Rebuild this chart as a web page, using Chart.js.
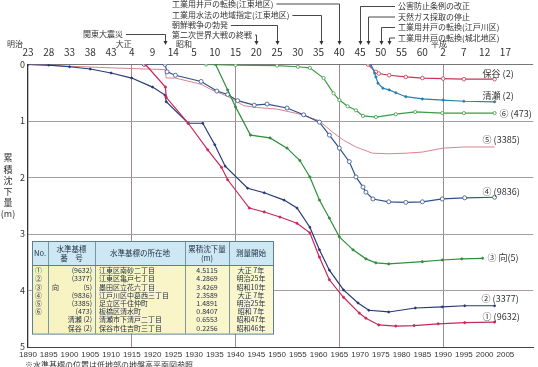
<!DOCTYPE html>
<html><head><meta charset="utf-8">
<script src="https://cdn.jsdelivr.net/npm/chart.js@4/dist/chart.umd.min.js"></script>
<style>html,body{margin:0;padding:0;background:#fff;}canvas{display:block;}</style>
</head><body>
<canvas id="c" width="538" height="367"></canvas>
<script>
// ---------- DATA ----------
const bottomTickYears = [1890,1895,1900,1905,1910,1915,1920,1925,1930,1935,1940,1945,1950,1955,1960,1965,1970,1975,1980,1985,1990,1995,2000,2005];
const topTickLabels = ['23','28','33','38','43','4','9','14','5','10','15','20','25','30','35','40','45','50','55','60','2','7','12','17'];
const eraNames = ['明治','大正','昭和','平成'];
const eraStartYears = [1890,1915,1930,1990];
const gridYears = [1915,1940,1965,1990];
const yTicks = [0,1,2,3,4,5];
const yTitleChars = ['累','積','沈','下','量','(m)'];

// series: [year, cumulative subsidence (m)]
const bm9632 = [[1918.3,0],[1923.1,0.40],[1923.3,0.58],[1928.6,1.04],[1933.3,1.51],[1936.6,1.82],[1938.1,2.04],[1943.3,2.54],[1946.9,2.61],[1950.7,2.70],[1954.8,2.81],[1957.9,2.98],[1960.2,3.41],[1962.6,3.81],[1966.0,4.12],[1969.8,4.40],[1971.4,4.49],[1974.5,4.61],[1978.6,4.63],[1983.0,4.62],[1988.8,4.59],[1995.2,4.57],[2002.4,4.56]];
const bm3377 = [[1890,0],[1895,0.01],[1900,0.04],[1905,0.08],[1910,0.15],[1915,0.24],[1920,0.40],[1923,0.54],[1923.3,0.66],[1928.6,1.04],[1932.1,1.04],[1935,1.42],[1937.5,1.80],[1942.9,2.19],[1946.9,2.27],[1951.7,2.40],[1954.8,2.54],[1957.9,2.88],[1960.2,3.28],[1962.6,3.64],[1966.0,3.99],[1969.5,4.22],[1972.1,4.35],[1976.9,4.38],[1983.3,4.31],[1989.8,4.29],[1995.2,4.27],[2002.4,4.27]];
const bmMuko5 = [[1935.2,0],[1938.1,0.45],[1940,0.75],[1943.6,1.25],[1948.3,1.30],[1952.4,1.48],[1955.5,1.70],[1957.9,1.99],[1960.2,2.40],[1962.6,2.72],[1965,3.05],[1968.3,3.28],[1971.4,3.44],[1973.8,3.51],[1976.9,3.53],[1985,3.49],[1989.8,3.46],[1994.5,3.44],[1999.5,3.43]];
const bm9836 = [[1918,0],[1923,0],[1923.5,0.13],[1925.5,0.19],[1931.7,0.30],[1935.5,0.47],[1938.1,0.53],[1940.5,0.64],[1944.5,0.72],[1947.6,0.70],[1952.4,0.77],[1956.4,0.89],[1960.2,1.02],[1962.6,1.25],[1965,1.48],[1967.4,1.72],[1969,1.99],[1970.7,2.17],[1971.4,2.26],[1973.1,2.38],[1976.9,2.43],[1981,2.44],[1985,2.43],[1989.8,2.38],[1995.2,2.36],[2002.4,2.35]];
const bm3385 = [[1890,0],[1900,0.03],[1910,0.06],[1923,0.09],[1923.3,0.24],[1925.5,0.24],[1931.7,0.35],[1934,0.44],[1938,0.56],[1942,0.73],[1945,0.76],[1950,0.79],[1955,0.87],[1960,0.99],[1963.6,1.21],[1966,1.34],[1969,1.46],[1973,1.57],[1977,1.58],[1981,1.57],[1985,1.55],[1990,1.48],[1995,1.46],[2002.4,1.46]];
const bm473 = [[1932.9,0],[1940,0.01],[1950,0.02],[1955,0.04],[1957.9,0.06],[1961.2,0.24],[1963.6,0.51],[1965,0.63],[1967,0.74],[1969,0.81],[1970.7,0.91],[1973.8,0.93],[1978.6,0.88],[1983.3,0.84],[1989.8,0.86],[1995,0.86],[2002.4,0.86]];
const bmKiyose2 = [[1972.6,0],[1973.5,0.15],[1973.8,0.22],[1974.3,0.33],[1975.5,0.42],[1977,0.45],[1978.6,0.50],[1981,0.57],[1985,0.61],[1990,0.63],[1995,0.65],[2002.4,0.66]];
const bmHoya2 = [[1971.9,0],[1973.8,0.13],[1974.5,0.16],[1977,0.19],[1981,0.22],[1985,0.24],[1990,0.25],[1995,0.26],[2002.4,0.26]];

const seriesLabels = ['① (9632)','② (3377)','③ 向(5)','④ (9836)','⑤ (3385)','⑥ (473)','清瀬 (2)','保谷 (2)'];

// events on the top
const eventTexts = ['工業用井戸の転換(江東地区)','工業用水法の地域指定(江東地区)','朝鮮戦争の勃発','第二次世界大戦の終戦','関東大震災','公害防止条例の改正','天然ガス採取の停止','工業用井戸の転換(江戸川区)','工業用井戸の転換(城北地区)'];
const eventYears = [1965,1960.5,1950,1945,1923,1970,1972,1975,1977];

// table
const tableHeader = ['No.','水準基標|番　号','水準基標の所在地','累積沈下量|(m)','測量開始'];
const tableNo = ['①','②','③','④','⑤','⑥','',''];
const tablePrefix = ['','','向','','','','',''];
const tableId = ['(9632)','(3377)','(5)','(9836)','(3385)','(473)','清瀬 (2)','保谷 (2)'];
const tableLoc = ['江東区南砂二丁目','江東区亀戸七丁目','墨田区立花六丁目','江戸川区中葛西三丁目','足立区千住仲町','板橋区清水町','清瀬市下清戸二丁目','保谷市住吉町三丁目'];
const tableVal = ['4.5115','4.2869','3.4269','2.3589','1.4891','0.8407','0.6553','0.2256'];
const tableStart = ['大正 7年','明治25年','昭和10年','大正 7年','明治25年','昭和 7年','昭和47年','昭和46年'];
const footnote = '※水準基標の位置は低地部の地盤高平面図参照';

// ---------- STYLE ----------
const FONT = "'Noto Sans CJK JP','Noto Sans',sans-serif";
const colors = ['#c8285a','#27397a','#2f8f3c','#31508c','#d9838f','#3d9b45','#2a7fab','#cc3352'];
const labelOffsets = [[-12,-6],[-13,-7],[5,-1],[-12,-6],[-12,-7],[5,0],[-12,-6],[-12,-6]];
const seriesList = [bm9632,bm3377,bmMuko5,bm9836,bm3385,bm473,bmKiyose2,bmHoya2];
const pointStyles = [
  {pointRadius:1.1, pointBackgroundColor:colors[0]},
  {pointRadius:1.0, pointBackgroundColor:colors[1]},
  {pointRadius:1.1, pointBackgroundColor:colors[2]},
  {pointRadius:2.0, pointBackgroundColor:'#fff'},
  {pointRadius:0},
  {pointRadius:1.6, pointBackgroundColor:'#fff'},
  {pointRadius:1.1, pointBackgroundColor:colors[6]},
  {pointRadius:1.8, pointBackgroundColor:'#fff'}
];

const datasets = seriesList.map((s,i)=>Object.assign({
  label: seriesLabels[i],
  data: s.map(p=>({x:p[0], y:p[1]})),
  borderColor: colors[i],
  pointBorderColor: colors[i],
  borderWidth: i===4 ? 1.0 : 1.2,
  pointBorderWidth: 0.8,
  tension: 0,
  fill: false
}, pointStyles[i]));

function arrowDown(ctx, x, y){
  ctx.beginPath(); ctx.moveTo(x-2, y-4); ctx.lineTo(x+2, y-4); ctx.lineTo(x, y); ctx.closePath(); ctx.fill();
}

const overlay = {
  id: 'overlay',
  afterDraw(chart){
    const {ctx, scales} = chart;
    const x = scales.x, y = scales.y;
    ctx.save();
    // y-axis title (vertical)
    ctx.fillStyle = '#333'; ctx.font = '9px ' + FONT;
    ctx.textAlign = 'center'; ctx.textBaseline = 'middle';
    yTitleChars.forEach((ch,i)=>ctx.fillText(ch, 8, 158 + i*11.2));

    // era names
    const eraDx = [-13,-8,-10,-4];
    ctx.font = '8px ' + FONT; ctx.fillStyle = '#333';
    eraNames.forEach((n,i)=>ctx.fillText(n, x.getPixelForValue(eraStartYears[i]) + eraDx[i], 44));

    // events
    ctx.font = '8px ' + FONT; ctx.strokeStyle = '#333'; ctx.lineWidth = 0.9; ctx.fillStyle = '#333';
    const rowsY = [3.5,15,25,34.5,34,6,16.5,27,37.5];
    const arrowEnd = 45;
    eventTexts.forEach((t,i)=>{
      const ex = Math.round(x.getPixelForValue(eventYears[i])) + 0.5;
      const ty = rowsY[i];
      ctx.textBaseline = 'middle';
      ctx.textAlign = 'left';
      if (i < 5) {
        const tx = i === 4 ? 83 : 172;
        ctx.fillText(t, tx, ty);
        const w = ctx.measureText(t).width;
        ctx.beginPath(); ctx.moveTo(tx + w + 3, ty + 0.5); ctx.lineTo(ex, ty + 0.5); ctx.lineTo(ex, arrowEnd - 3); ctx.stroke();
      } else {
        const tx = 398;
        ctx.fillText(t, tx, ty);
        ctx.beginPath(); ctx.moveTo(tx - 3, ty + 0.5); ctx.lineTo(ex, ty + 0.5); ctx.lineTo(ex, arrowEnd - 3); ctx.stroke();
      }
      arrowDown(ctx, ex, arrowEnd);
    });

    // series end labels
    ctx.font = '9px ' + FONT; ctx.fillStyle = '#333'; ctx.textAlign = 'left'; ctx.textBaseline = 'middle';
    seriesList.forEach((s,i)=>{
      const last = s[s.length-1];
      const px = x.getPixelForValue(last[0]), py = y.getPixelForValue(last[1]);
      ctx.fillText(seriesLabels[i], px + labelOffsets[i][0], py + labelOffsets[i][1]);
    });

    // table
    const cols = [32,48,95,185,229,273];
    const top = 241, headH = 24, rowH = 8.2;
    const bodyTop = top + headH, bottom = bodyTop + rowH*tableNo.length + 3;
    ctx.fillStyle = '#cde8f2'; ctx.fillRect(cols[0], top, cols[5]-cols[0], headH);
    const grad = ctx.createLinearGradient(cols[0],0,cols[5],0);
    grad.addColorStop(0,'#f6f2c0'); grad.addColorStop(1,'#fbf7cf');
    ctx.fillStyle = grad; ctx.fillRect(cols[0], bodyTop, cols[5]-cols[0], bottom-bodyTop);
    ctx.strokeStyle = '#5e7f8f'; ctx.lineWidth = 1;
    ctx.strokeRect(cols[0]+0.5, top+0.5, cols[5]-cols[0], bottom-top);
    ctx.beginPath(); ctx.moveTo(cols[0], bodyTop+0.5); ctx.lineTo(cols[5], bodyTop+0.5); ctx.stroke();
    ctx.lineWidth = 0.8;
    for (let k=1;k<5;k++){ ctx.beginPath(); ctx.moveTo(cols[k]+0.5, top); ctx.lineTo(cols[k]+0.5, bottom); ctx.stroke(); }
    ctx.fillStyle = '#1f2d45'; ctx.font = '7.5px ' + FONT; ctx.textAlign = 'center'; ctx.textBaseline = 'middle';
    tableHeader.forEach((h,k)=>{
      const cx = (cols[k]+cols[k+1])/2;
      const parts = h.split('|');
      if (parts.length === 1) ctx.fillText(parts[0], cx, top + headH/2);
      else { ctx.fillText(parts[0], cx, top + 8); ctx.fillText(parts[1], cx, top + 17); }
    });
    ctx.font = '7px ' + FONT;
    for (let r=0;r<tableNo.length;r++){
      const ry = bodyTop + 5.5 + r*rowH;
      ctx.textAlign = 'left'; ctx.fillText(tableNo[r], 35, ry);
      if (tablePrefix[r]) ctx.fillText(tablePrefix[r], 52, ry);
      ctx.textAlign = 'right'; ctx.fillText(tableId[r], 92, ry);
      ctx.textAlign = 'left'; ctx.fillText(tableLoc[r], 99, ry);
      ctx.textAlign = 'center'; ctx.fillText(tableVal[r], 207, ry); ctx.fillText(tableStart[r], 251, ry);
    }

    // footnote
    ctx.fillStyle = '#333'; ctx.font = '8px ' + FONT; ctx.textAlign = 'left'; ctx.textBaseline = 'middle';
    ctx.fillText(footnote, 25, 365);
    ctx.restore();
  }
};

new Chart(document.getElementById('c'), {
  type: 'line',
  data: { datasets },
  options: {
    responsive: false, animation: false,
    layout: { padding: 0 },
    plugins: { legend: {display:false}, tooltip: {enabled:false} },
    scales: {
      x: {
        type: 'linear', position: 'bottom', min: 1890, max: 2011.7,
        afterBuildTicks: s => { s.ticks = bottomTickYears.map(v=>({value:v})); },
        afterFit: s => { s.height = 20; },
        ticks: { autoSkip:false, maxRotation:0, padding:3, color:'#333', font:{family:"'Liberation Sans',sans-serif", size:8}, callback: v => String(v) },
        grid: { drawTicks:false, color: c => (c.tick && gridYears.includes(c.tick.value)) ? '#9a8e8e' : 'rgba(0,0,0,0)', lineWidth: 1 },
        border: { display:true, color:'#444', width:1 }
      },
      xTop: {
        type: 'linear', position: 'top', min: 1890, max: 2011.7,
        afterBuildTicks: s => { s.ticks = bottomTickYears.map(v=>({value:v})); },
        afterFit: s => { s.height = 64.5; },
        ticks: { autoSkip:false, maxRotation:0, padding:6, color:'#333', font:{family:FONT, size:10}, callback: (v,i) => topTickLabels[i] },
        grid: { display:false, drawTicks:false },
        border: { display:false }
      },
      y: {
        type: 'linear', min: 0, max: 5, reverse: true,
        afterBuildTicks: s => { s.ticks = yTicks.map(v=>({value:v})); },
        afterFit: s => { s.width = 28; },
        ticks: { padding:3, color:'#333', font:{family:FONT, size:9}, callback: v => String(v) },
        grid: { drawTicks:false, color: c => (c.tick && c.tick.value === 0) ? '#777' : '#a89c9c', lineWidth: 1 },
        border: { display:true, color:'#333', width:1.3 }
      }
    }
  },
  plugins: [overlay]
});
</script>
</body></html>
